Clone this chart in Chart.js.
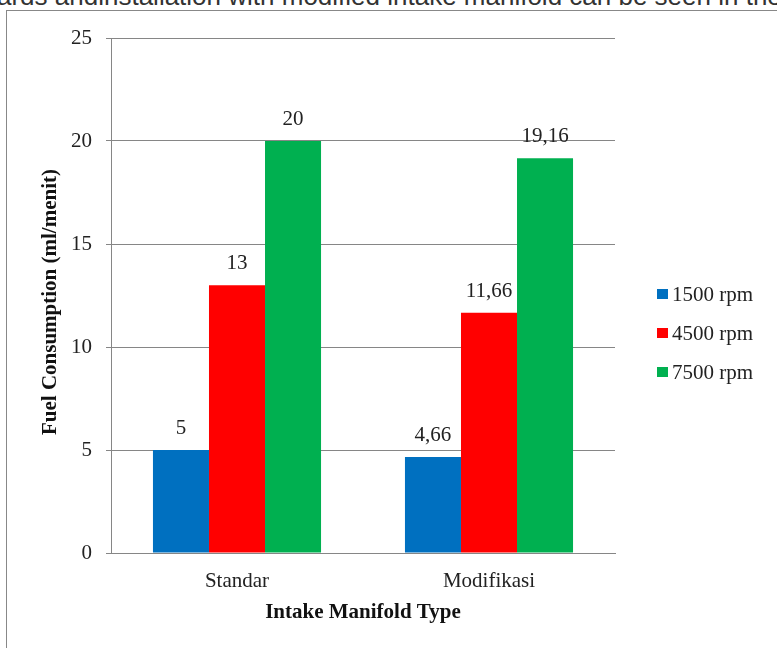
<!DOCTYPE html>
<html>
<head>
<meta charset="utf-8">
<script src="https://cdn.jsdelivr.net/npm/chart.js@4.4.1/dist/chart.umd.min.js"></script>
<style>
  html, body { margin: 0; padding: 0; background: #fff; overflow: hidden; }
  #wrap { position: relative; width: 777px; height: 648px; overflow: hidden; }
  #topText { position: absolute; left: -3px; top: -19px; white-space: nowrap;
    font-family: "Liberation Sans", Arial, sans-serif; font-size: 26px; color: #333; }
  #frame { position: absolute; left: 6px; top: 10px; width: 900px; height: 900px;
    border-left: 1px solid #888; border-top: 1px solid #888; }
  canvas { position: absolute; left: 0; top: 0; }
</style>
</head>
<body>
<div id="wrap">
  <div id="topText">ards andinstallation with modified intake manifold can be seen in the</div>
  <div id="frame"></div>
  <canvas id="c" width="777" height="648"></canvas>
</div>
<script>
const categories = ['Standar', 'Modifikasi'];
const seriesLabels = ['1500 rpm', '4500 rpm', '7500 rpm'];
const rpm1500 = [5, 4.66];
const rpm4500 = [13, 11.66];
const rpm7500 = [20, 19.16];
const seriesColors = ['#0070C0', '#FF0000', '#00B050'];
const yMin = 0, yMax = 25, yStep = 5;
const xTitle = 'Intake Manifold Type';
const yTitle = 'Fuel Consumption (ml/menit)';

const serif = '"Liberation Serif", "Times New Roman", serif';
const FS = 21;

const valueLabelPlugin = {
  id: 'valueLabels',
  afterDatasetsDraw(chart) {
    const ctx = chart.ctx;
    ctx.save();
    ctx.font = FS + 'px ' + serif;
    ctx.fillStyle = '#222';
    ctx.textAlign = 'center';
    ctx.textBaseline = 'alphabetic';
    chart.data.datasets.forEach((ds, i) => {
      const meta = chart.getDatasetMeta(i);
      meta.data.forEach((bar, j) => {
        const txt = String(ds.data[j]).replace('.', ',');
        ctx.fillText(txt, bar.x, bar.y - 16);
      });
    });
    ctx.restore();
  }
};

const legendPlugin = {
  id: 'sideLegend',
  afterDraw(chart) {
    const ctx = chart.ctx;
    ctx.save();
    ctx.font = FS + 'px ' + serif;
    ctx.textAlign = 'left';
    ctx.textBaseline = 'middle';
    chart.data.datasets.forEach((ds, i) => {
      const cy = 294 + i * 39;
      ctx.fillStyle = ds.backgroundColor;
      ctx.fillRect(657, cy - 5, 11, 10);
      ctx.fillStyle = '#222';
      ctx.fillText(ds.label, 672, cy + 1);
    });
    ctx.restore();
  }
};

const yTitlePlugin = {
  id: 'yTitle',
  afterDraw(chart) {
    const ctx = chart.ctx;
    ctx.save();
    ctx.translate(51, 302);
    ctx.rotate(-Math.PI / 2);
    ctx.font = 'bold ' + FS + 'px ' + serif;
    ctx.fillStyle = '#111';
    ctx.textAlign = 'center';
    ctx.textBaseline = 'middle';
    ctx.fillText(yTitle, 0, 0);
    ctx.restore();
  }
};

new Chart(document.getElementById('c'), {
  type: 'bar',
  data: {
    labels: categories,
    datasets: [
      { label: seriesLabels[0], data: rpm1500, backgroundColor: seriesColors[0] },
      { label: seriesLabels[1], data: rpm4500, backgroundColor: seriesColors[1] },
      { label: seriesLabels[2], data: rpm7500, backgroundColor: seriesColors[2] }
    ]
  },
  options: {
    responsive: false,
    animation: false,
    devicePixelRatio: 1,
    layout: { padding: { left: 10, top: 38, right: 162, bottom: 15 } },
    datasets: { bar: { categoryPercentage: 0.667, barPercentage: 1.0, borderWidth: 0 } },
    plugins: { legend: { display: false }, tooltip: { enabled: false } },
    scales: {
      x: {
        afterFit(scale) { scale.height = 80; },
        grid: { display: false, drawTicks: false },
        border: { display: true, color: '#868686', width: 1 },
        ticks: { font: { family: serif, size: FS }, color: '#222', padding: 16 },
        title: { display: true, text: xTitle, font: { family: serif, size: FS, weight: 'bold' },
                 color: '#111', padding: { top: 8, bottom: 8 } }
      },
      y: {
        min: yMin, max: yMax,
        afterFit(scale) { scale.width = 101; },
        grid: { color: '#868686', lineWidth: 1, tickLength: 5, drawTicks: true },
        border: { display: true, color: '#868686', width: 1 },
        ticks: { stepSize: yStep, font: { family: serif, size: FS }, color: '#222', padding: 14 }
      }
    }
  },
  plugins: [valueLabelPlugin, legendPlugin, yTitlePlugin]
});
</script>
</body>
</html>
